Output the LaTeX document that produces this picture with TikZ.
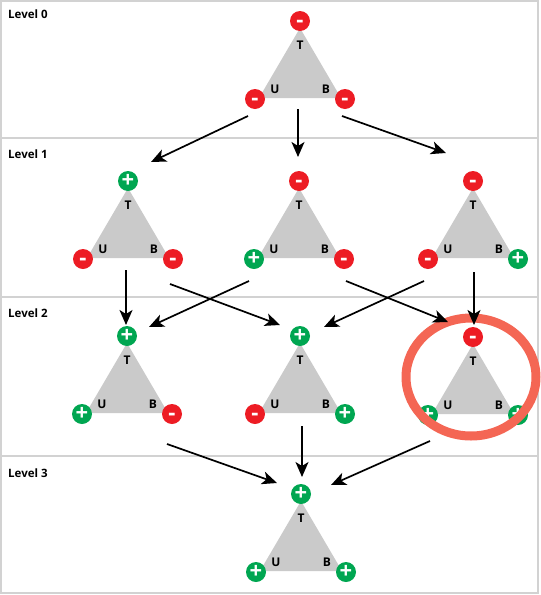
\documentclass[tikz,border=0pt]{standalone}
\usepackage{fontspec}
\setmainfont{Open Sans}
\usetikzlibrary{arrows.meta}

\definecolor{signred}{RGB}{237,28,36}
\definecolor{signgreen}{RGB}{0,166,81}
\definecolor{trigray}{RGB}{202,202,202}
\definecolor{framegray}{RGB}{210,210,210}
\definecolor{ringred}{RGB}{244,102,84}

\begin{document}
\begin{tikzpicture}[x=1pt, y=-1pt, >={Stealth[length=15pt,width=13pt,inset=4pt]},
  sign/.style={circle, minimum size=20pt, inner sep=0pt, text=white,
    font=\bfseries\fontsize{22}{22}\selectfont, text height=13pt, text depth=0pt},
  vplus/.style={sign, fill=signgreen, node contents={+}},
  vminus/.style={sign, fill=signred, node contents={-}},
  corner/.style={font=\bfseries\fontsize{12}{12}\selectfont, inner sep=0pt},
  levelname/.style={font=\bfseries\fontsize{11.5}{11.5}\selectfont, inner sep=0pt, anchor=base west},
  arr/.style={->, line width=1.7pt}]
  \useasboundingbox (0,0) rectangle (541,595);

  % Frame and level bands
  \draw[framegray, line width=2pt] (1,1) rectangle (538,593);
  \foreach \y in {138,297,456}
    \draw[framegray, line width=1.5pt] (1,\y) -- (538,\y);
  \foreach \k/\y in {0/18,1/158,2/317,3/477}
    \node[levelname] (level\k) at (8,\y) {Level \k};

  % Triangles: name / x / y of top vertex / signs of T, U, B
  \foreach \n/\x/\y/\st/\su/\sb in {lv0/300/21/vminus/vminus/vminus,
      lv1a/128/181/vplus/vminus/vminus, lv1b/299/181/vminus/vplus/vminus,
      lv1c/473/181/vminus/vminus/vplus, lv2a/127/336/vplus/vplus/vminus,
      lv2b/300/336/vplus/vminus/vplus, lv2c/473/337/vminus/vplus/vplus,
      lv3/301/494/vplus/vplus/vplus}
  {
    \fill[trigray] (\x,\y+7) -- (\x-41,\y+77) -- (\x+41,\y+77) -- cycle;
    \node[corner] (\n-tl) at (\x,\y+24) {T};
    \node[corner] (\n-ul) at (\x-25,\y+68) {U};
    \node[corner] (\n-bl) at (\x+26,\y+68) {B};
    \node (\n-t) at (\x,\y) [\st];
    \node (\n-u) at (\x-45,\y+78) [\su];
    \node (\n-b) at (\x+45,\y+78) [\sb];
    \coordinate (\n) at (\x,\y+78);
  }

  % Highlight
  \draw[ringred, line width=9pt] (471,377) ellipse [x radius=65, y radius=59];

  % Flips
  \foreach \a/\ax/\ay/\b/\bx/\by in {lv0/-52/17/lv1a-t/23/-19, lv0/-2/10/lv1b-t/-1/-24,
      lv0/42/17/lv1c-t/-27/-28, lv1a/-2/11/lv2a-t/-1/-11, lv1a/42/25/lv2b-t/-20/-11,
      lv1b/-50/22/lv2a-t/22/-9, lv1b/47/22/lv2c-t/-25/-15, lv1c/-49/22/lv2b-t/24/-9,
      lv1c/1/13/lv2c-t/1/-12, lv2a/40/30/lv3-t/-24/-11, lv2b/2/12/lv3-t/1/-17,
      lv2c/-43/26/lv3-t/30/-9}
    \draw[arr] ([shift={(\ax,\ay)}]\a) -- ([shift={(\bx,\by)}]\b.center);
\end{tikzpicture}
\end{document}
